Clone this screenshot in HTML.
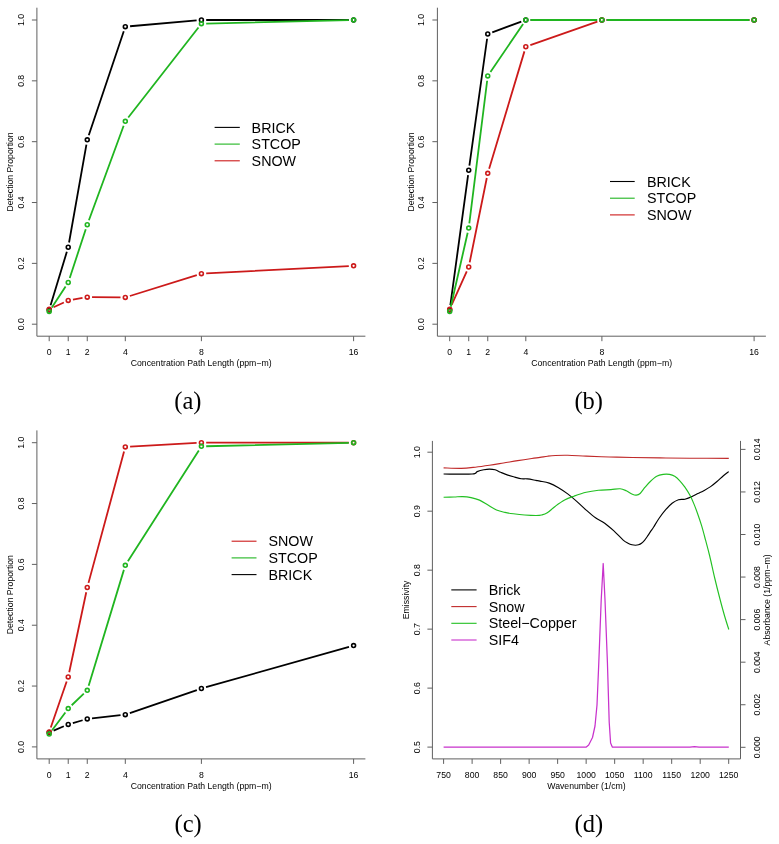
<!DOCTYPE html>
<html><head><meta charset="utf-8"><style>
html,body{margin:0;padding:0;background:#fff;}
svg{display:block;font-family:'Liberation Sans',sans-serif;will-change:transform;}
</style></head><body>
<svg width="779" height="844" viewBox="0 0 779 844" style="font-family:'Liberation Sans',sans-serif" fill="#000">
<rect width="779" height="844" fill="#fff"/>
<path d="M36.90 7.70V336.20H365.40" stroke="#606060" stroke-width="1.0" fill="none"/>
<path d="M31.90 324.20H36.90" stroke="#606060" stroke-width="1.0" fill="none"/>
<text transform="translate(20.80 324.20) rotate(-90)" y="3.1" text-anchor="middle" font-size="8.7">0.0</text>
<path d="M31.90 263.36H36.90" stroke="#606060" stroke-width="1.0" fill="none"/>
<text transform="translate(20.80 263.36) rotate(-90)" y="3.1" text-anchor="middle" font-size="8.7">0.2</text>
<path d="M31.90 202.52H36.90" stroke="#606060" stroke-width="1.0" fill="none"/>
<text transform="translate(20.80 202.52) rotate(-90)" y="3.1" text-anchor="middle" font-size="8.7">0.4</text>
<path d="M31.90 141.68H36.90" stroke="#606060" stroke-width="1.0" fill="none"/>
<text transform="translate(20.80 141.68) rotate(-90)" y="3.1" text-anchor="middle" font-size="8.7">0.6</text>
<path d="M31.90 80.84H36.90" stroke="#606060" stroke-width="1.0" fill="none"/>
<text transform="translate(20.80 80.84) rotate(-90)" y="3.1" text-anchor="middle" font-size="8.7">0.8</text>
<path d="M31.90 20.00H36.90" stroke="#606060" stroke-width="1.0" fill="none"/>
<text transform="translate(20.80 20.00) rotate(-90)" y="3.1" text-anchor="middle" font-size="8.7">1.0</text>
<path d="M49.20 336.20V341.20" stroke="#606060" stroke-width="1.0" fill="none"/>
<text x="49.20" y="355.10" text-anchor="middle" font-size="8.7">0</text>
<path d="M68.22 336.20V341.20" stroke="#606060" stroke-width="1.0" fill="none"/>
<text x="68.22" y="355.10" text-anchor="middle" font-size="8.7">1</text>
<path d="M87.25 336.20V341.20" stroke="#606060" stroke-width="1.0" fill="none"/>
<text x="87.25" y="355.10" text-anchor="middle" font-size="8.7">2</text>
<path d="M125.30 336.20V341.20" stroke="#606060" stroke-width="1.0" fill="none"/>
<text x="125.30" y="355.10" text-anchor="middle" font-size="8.7">4</text>
<path d="M201.40 336.20V341.20" stroke="#606060" stroke-width="1.0" fill="none"/>
<text x="201.40" y="355.10" text-anchor="middle" font-size="8.7">8</text>
<path d="M353.60 336.20V341.20" stroke="#606060" stroke-width="1.0" fill="none"/>
<text x="353.60" y="355.10" text-anchor="middle" font-size="8.7">16</text>
<text x="201.15" y="366.30" text-anchor="middle" font-size="8.7">Concentration Path Length (ppm−m)</text>
<text transform="translate(13.40 171.95) rotate(-90)" text-anchor="middle" font-size="8.7">Detection Proportion</text>
<path d="M50.59 305.31L66.83 251.83M69.06 242.51L86.41 144.58M88.78 135.31L123.77 31.24M130.08 26.27L196.62 20.42M206.20 20.00L348.80 20.00" stroke="#000000" stroke-width="1.8" fill="none"/>
<circle cx="49.20" cy="309.90" r="1.95" stroke="#000000" stroke-width="1.6" fill="none"/>
<circle cx="68.22" cy="247.24" r="1.95" stroke="#000000" stroke-width="1.6" fill="none"/>
<circle cx="87.25" cy="139.85" r="1.95" stroke="#000000" stroke-width="1.6" fill="none"/>
<circle cx="125.30" cy="26.69" r="1.95" stroke="#000000" stroke-width="1.6" fill="none"/>
<circle cx="201.40" cy="20.00" r="1.95" stroke="#000000" stroke-width="1.6" fill="none"/>
<circle cx="353.60" cy="20.00" r="1.95" stroke="#000000" stroke-width="1.6" fill="none"/>
<path d="M53.55 307.27L63.87 302.49M72.95 299.64L82.52 297.96M92.05 297.16L120.50 297.39M129.88 296.00L196.82 275.13M206.19 273.45L348.81 266.04" stroke="#cc1a1a" stroke-width="1.8" fill="none"/>
<circle cx="49.20" cy="309.29" r="1.95" stroke="#cc1a1a" stroke-width="1.6" fill="none"/>
<circle cx="68.22" cy="300.47" r="1.95" stroke="#cc1a1a" stroke-width="1.6" fill="none"/>
<circle cx="87.25" cy="297.13" r="1.95" stroke="#cc1a1a" stroke-width="1.6" fill="none"/>
<circle cx="125.30" cy="297.43" r="1.95" stroke="#cc1a1a" stroke-width="1.6" fill="none"/>
<circle cx="201.40" cy="273.70" r="1.95" stroke="#cc1a1a" stroke-width="1.6" fill="none"/>
<circle cx="353.60" cy="265.79" r="1.95" stroke="#cc1a1a" stroke-width="1.6" fill="none"/>
<path d="M51.84 307.41L65.59 286.53M69.73 277.97L85.75 229.29M88.91 220.22L123.64 125.80M128.25 117.51L198.45 27.44M206.20 23.54L348.80 20.12" stroke="#20b520" stroke-width="1.8" fill="none"/>
<circle cx="49.20" cy="311.42" r="1.95" stroke="#20b520" stroke-width="1.6" fill="none"/>
<circle cx="68.22" cy="282.52" r="1.95" stroke="#20b520" stroke-width="1.6" fill="none"/>
<circle cx="87.25" cy="224.73" r="1.95" stroke="#20b520" stroke-width="1.6" fill="none"/>
<circle cx="125.30" cy="121.30" r="1.95" stroke="#20b520" stroke-width="1.6" fill="none"/>
<circle cx="201.40" cy="23.65" r="1.95" stroke="#20b520" stroke-width="1.6" fill="none"/>
<circle cx="353.60" cy="20.00" r="1.95" stroke="#20b520" stroke-width="1.6" fill="none"/>
<path d="M214.60 127.40H239.80" stroke="#000000" stroke-width="1.1"/>
<text x="251.60" y="132.50" font-size="14.3">BRICK</text>
<path d="M214.60 144.10H239.80" stroke="#20b520" stroke-width="1.1"/>
<text x="251.60" y="149.20" font-size="14.3">STCOP</text>
<path d="M214.60 160.80H239.80" stroke="#cc1a1a" stroke-width="1.1"/>
<text x="251.60" y="165.90" font-size="14.3">SNOW</text>
<path d="M437.40 7.70V336.20H765.90" stroke="#606060" stroke-width="1.0" fill="none"/>
<path d="M432.40 324.20H437.40" stroke="#606060" stroke-width="1.0" fill="none"/>
<text transform="translate(421.30 324.20) rotate(-90)" y="3.1" text-anchor="middle" font-size="8.7">0.0</text>
<path d="M432.40 263.36H437.40" stroke="#606060" stroke-width="1.0" fill="none"/>
<text transform="translate(421.30 263.36) rotate(-90)" y="3.1" text-anchor="middle" font-size="8.7">0.2</text>
<path d="M432.40 202.52H437.40" stroke="#606060" stroke-width="1.0" fill="none"/>
<text transform="translate(421.30 202.52) rotate(-90)" y="3.1" text-anchor="middle" font-size="8.7">0.4</text>
<path d="M432.40 141.68H437.40" stroke="#606060" stroke-width="1.0" fill="none"/>
<text transform="translate(421.30 141.68) rotate(-90)" y="3.1" text-anchor="middle" font-size="8.7">0.6</text>
<path d="M432.40 80.84H437.40" stroke="#606060" stroke-width="1.0" fill="none"/>
<text transform="translate(421.30 80.84) rotate(-90)" y="3.1" text-anchor="middle" font-size="8.7">0.8</text>
<path d="M432.40 20.00H437.40" stroke="#606060" stroke-width="1.0" fill="none"/>
<text transform="translate(421.30 20.00) rotate(-90)" y="3.1" text-anchor="middle" font-size="8.7">1.0</text>
<path d="M449.70 336.20V341.20" stroke="#606060" stroke-width="1.0" fill="none"/>
<text x="449.70" y="355.10" text-anchor="middle" font-size="8.7">0</text>
<path d="M468.72 336.20V341.20" stroke="#606060" stroke-width="1.0" fill="none"/>
<text x="468.72" y="355.10" text-anchor="middle" font-size="8.7">1</text>
<path d="M487.75 336.20V341.20" stroke="#606060" stroke-width="1.0" fill="none"/>
<text x="487.75" y="355.10" text-anchor="middle" font-size="8.7">2</text>
<path d="M525.80 336.20V341.20" stroke="#606060" stroke-width="1.0" fill="none"/>
<text x="525.80" y="355.10" text-anchor="middle" font-size="8.7">4</text>
<path d="M601.90 336.20V341.20" stroke="#606060" stroke-width="1.0" fill="none"/>
<text x="601.90" y="355.10" text-anchor="middle" font-size="8.7">8</text>
<path d="M754.10 336.20V341.20" stroke="#606060" stroke-width="1.0" fill="none"/>
<text x="754.10" y="355.10" text-anchor="middle" font-size="8.7">16</text>
<text x="601.65" y="366.30" text-anchor="middle" font-size="8.7">Concentration Path Length (ppm−m)</text>
<text transform="translate(413.90 171.95) rotate(-90)" text-anchor="middle" font-size="8.7">Detection Proportion</text>
<path d="M450.35 305.15L468.08 175.03M469.39 165.52L487.09 38.75M492.26 32.34L521.29 21.66M530.60 20.00L597.10 20.00M606.70 20.00L749.30 20.00" stroke="#000000" stroke-width="1.8" fill="none"/>
<circle cx="449.70" cy="309.90" r="1.95" stroke="#000000" stroke-width="1.6" fill="none"/>
<circle cx="468.72" cy="170.27" r="1.95" stroke="#000000" stroke-width="1.6" fill="none"/>
<circle cx="487.75" cy="33.99" r="1.95" stroke="#000000" stroke-width="1.6" fill="none"/>
<circle cx="525.80" cy="20.00" r="1.95" stroke="#000000" stroke-width="1.6" fill="none"/>
<circle cx="601.90" cy="20.00" r="1.95" stroke="#000000" stroke-width="1.6" fill="none"/>
<circle cx="754.10" cy="20.00" r="1.95" stroke="#000000" stroke-width="1.6" fill="none"/>
<path d="M451.67 304.92L466.76 271.39M469.68 262.31L486.79 178.02M489.13 168.72L524.42 51.37M530.33 45.18L597.37 21.59M606.70 20.00L749.30 20.00" stroke="#cc1a1a" stroke-width="1.8" fill="none"/>
<circle cx="449.70" cy="309.29" r="1.95" stroke="#cc1a1a" stroke-width="1.6" fill="none"/>
<circle cx="468.72" cy="267.01" r="1.95" stroke="#cc1a1a" stroke-width="1.6" fill="none"/>
<circle cx="487.75" cy="173.32" r="1.95" stroke="#cc1a1a" stroke-width="1.6" fill="none"/>
<circle cx="525.80" cy="46.77" r="1.95" stroke="#cc1a1a" stroke-width="1.6" fill="none"/>
<circle cx="601.90" cy="20.00" r="1.95" stroke="#cc1a1a" stroke-width="1.6" fill="none"/>
<circle cx="754.10" cy="20.00" r="1.95" stroke="#cc1a1a" stroke-width="1.6" fill="none"/>
<path d="M450.77 306.74L467.66 232.75M469.32 223.31L487.15 80.74M490.45 72.00L523.10 23.97M530.60 20.00L597.10 20.00M606.70 20.00L749.30 20.00" stroke="#20b520" stroke-width="1.8" fill="none"/>
<circle cx="449.70" cy="311.42" r="1.95" stroke="#20b520" stroke-width="1.6" fill="none"/>
<circle cx="468.72" cy="228.07" r="1.95" stroke="#20b520" stroke-width="1.6" fill="none"/>
<circle cx="487.75" cy="75.97" r="1.95" stroke="#20b520" stroke-width="1.6" fill="none"/>
<circle cx="525.80" cy="20.00" r="1.95" stroke="#20b520" stroke-width="1.6" fill="none"/>
<circle cx="601.90" cy="20.00" r="1.95" stroke="#20b520" stroke-width="1.6" fill="none"/>
<circle cx="754.10" cy="20.00" r="1.95" stroke="#20b520" stroke-width="1.6" fill="none"/>
<path d="M610.00 181.50H634.70" stroke="#000000" stroke-width="1.1"/>
<text x="647.00" y="186.60" font-size="14.3">BRICK</text>
<path d="M610.00 198.20H634.70" stroke="#20b520" stroke-width="1.1"/>
<text x="647.00" y="203.30" font-size="14.3">STCOP</text>
<path d="M610.00 214.90H634.70" stroke="#cc1a1a" stroke-width="1.1"/>
<text x="647.00" y="220.00" font-size="14.3">SNOW</text>
<path d="M36.90 430.40V758.90H365.40" stroke="#606060" stroke-width="1.0" fill="none"/>
<path d="M31.90 746.90H36.90" stroke="#606060" stroke-width="1.0" fill="none"/>
<text transform="translate(20.80 746.90) rotate(-90)" y="3.1" text-anchor="middle" font-size="8.7">0.0</text>
<path d="M31.90 686.06H36.90" stroke="#606060" stroke-width="1.0" fill="none"/>
<text transform="translate(20.80 686.06) rotate(-90)" y="3.1" text-anchor="middle" font-size="8.7">0.2</text>
<path d="M31.90 625.22H36.90" stroke="#606060" stroke-width="1.0" fill="none"/>
<text transform="translate(20.80 625.22) rotate(-90)" y="3.1" text-anchor="middle" font-size="8.7">0.4</text>
<path d="M31.90 564.38H36.90" stroke="#606060" stroke-width="1.0" fill="none"/>
<text transform="translate(20.80 564.38) rotate(-90)" y="3.1" text-anchor="middle" font-size="8.7">0.6</text>
<path d="M31.90 503.54H36.90" stroke="#606060" stroke-width="1.0" fill="none"/>
<text transform="translate(20.80 503.54) rotate(-90)" y="3.1" text-anchor="middle" font-size="8.7">0.8</text>
<path d="M31.90 442.70H36.90" stroke="#606060" stroke-width="1.0" fill="none"/>
<text transform="translate(20.80 442.70) rotate(-90)" y="3.1" text-anchor="middle" font-size="8.7">1.0</text>
<path d="M49.20 758.90V763.90" stroke="#606060" stroke-width="1.0" fill="none"/>
<text x="49.20" y="777.80" text-anchor="middle" font-size="8.7">0</text>
<path d="M68.22 758.90V763.90" stroke="#606060" stroke-width="1.0" fill="none"/>
<text x="68.22" y="777.80" text-anchor="middle" font-size="8.7">1</text>
<path d="M87.25 758.90V763.90" stroke="#606060" stroke-width="1.0" fill="none"/>
<text x="87.25" y="777.80" text-anchor="middle" font-size="8.7">2</text>
<path d="M125.30 758.90V763.90" stroke="#606060" stroke-width="1.0" fill="none"/>
<text x="125.30" y="777.80" text-anchor="middle" font-size="8.7">4</text>
<path d="M201.40 758.90V763.90" stroke="#606060" stroke-width="1.0" fill="none"/>
<text x="201.40" y="777.80" text-anchor="middle" font-size="8.7">8</text>
<path d="M353.60 758.90V763.90" stroke="#606060" stroke-width="1.0" fill="none"/>
<text x="353.60" y="777.80" text-anchor="middle" font-size="8.7">16</text>
<text x="201.15" y="789.00" text-anchor="middle" font-size="8.7">Concentration Path Length (ppm−m)</text>
<text transform="translate(13.40 594.65) rotate(-90)" text-anchor="middle" font-size="8.7">Detection Proportion</text>
<path d="M53.61 730.70L63.82 726.29M72.84 723.06L82.64 720.24M92.02 718.38L120.53 715.19M129.84 713.09L196.86 690.05M206.02 687.19L348.98 646.90" stroke="#000000" stroke-width="1.8" fill="none"/>
<circle cx="49.20" cy="732.60" r="1.95" stroke="#000000" stroke-width="1.6" fill="none"/>
<circle cx="68.22" cy="724.39" r="1.95" stroke="#000000" stroke-width="1.6" fill="none"/>
<circle cx="87.25" cy="718.91" r="1.95" stroke="#000000" stroke-width="1.6" fill="none"/>
<circle cx="125.30" cy="714.65" r="1.95" stroke="#000000" stroke-width="1.6" fill="none"/>
<circle cx="201.40" cy="688.49" r="1.95" stroke="#000000" stroke-width="1.6" fill="none"/>
<circle cx="353.60" cy="645.60" r="1.95" stroke="#000000" stroke-width="1.6" fill="none"/>
<path d="M50.77 727.46L66.66 681.47M69.22 672.24L86.25 592.19M88.50 582.87L124.05 451.59M130.09 446.69L196.61 442.97M206.20 442.70L348.80 442.70" stroke="#cc1a1a" stroke-width="1.8" fill="none"/>
<circle cx="49.20" cy="731.99" r="1.95" stroke="#cc1a1a" stroke-width="1.6" fill="none"/>
<circle cx="68.22" cy="676.93" r="1.95" stroke="#cc1a1a" stroke-width="1.6" fill="none"/>
<circle cx="87.25" cy="587.50" r="1.95" stroke="#cc1a1a" stroke-width="1.6" fill="none"/>
<circle cx="125.30" cy="446.96" r="1.95" stroke="#cc1a1a" stroke-width="1.6" fill="none"/>
<circle cx="201.40" cy="442.70" r="1.95" stroke="#cc1a1a" stroke-width="1.6" fill="none"/>
<circle cx="353.60" cy="442.70" r="1.95" stroke="#cc1a1a" stroke-width="1.6" fill="none"/>
<path d="M52.07 730.27L65.36 712.42M71.69 705.25L83.79 693.64M88.65 685.73L123.90 569.88M127.89 561.25L198.81 450.39M206.20 446.24L348.80 442.82" stroke="#20b520" stroke-width="1.8" fill="none"/>
<circle cx="49.20" cy="734.12" r="1.95" stroke="#20b520" stroke-width="1.6" fill="none"/>
<circle cx="68.22" cy="708.57" r="1.95" stroke="#20b520" stroke-width="1.6" fill="none"/>
<circle cx="87.25" cy="690.32" r="1.95" stroke="#20b520" stroke-width="1.6" fill="none"/>
<circle cx="125.30" cy="565.29" r="1.95" stroke="#20b520" stroke-width="1.6" fill="none"/>
<circle cx="201.40" cy="446.35" r="1.95" stroke="#20b520" stroke-width="1.6" fill="none"/>
<circle cx="353.60" cy="442.70" r="1.95" stroke="#20b520" stroke-width="1.6" fill="none"/>
<path d="M231.60 541.20H256.50" stroke="#cc1a1a" stroke-width="1.1"/>
<text x="268.50" y="546.30" font-size="14.3">SNOW</text>
<path d="M231.60 557.90H256.50" stroke="#20b520" stroke-width="1.1"/>
<text x="268.50" y="563.00" font-size="14.3">STCOP</text>
<path d="M231.60 574.60H256.50" stroke="#000000" stroke-width="1.1"/>
<text x="268.50" y="579.70" font-size="14.3">BRICK</text>
<path d="M432.40 440.90V758.90H740.50V440.90" stroke="#606060" stroke-width="1.0" fill="none"/>
<path d="M427.40 747.10H432.40" stroke="#606060" stroke-width="1.0" fill="none"/>
<text transform="translate(417.10 747.10) rotate(-90)" y="3.1" text-anchor="middle" font-size="8.7">0.5</text>
<path d="M427.40 688.12H432.40" stroke="#606060" stroke-width="1.0" fill="none"/>
<text transform="translate(417.10 688.12) rotate(-90)" y="3.1" text-anchor="middle" font-size="8.7">0.6</text>
<path d="M427.40 629.14H432.40" stroke="#606060" stroke-width="1.0" fill="none"/>
<text transform="translate(417.10 629.14) rotate(-90)" y="3.1" text-anchor="middle" font-size="8.7">0.7</text>
<path d="M427.40 570.16H432.40" stroke="#606060" stroke-width="1.0" fill="none"/>
<text transform="translate(417.10 570.16) rotate(-90)" y="3.1" text-anchor="middle" font-size="8.7">0.8</text>
<path d="M427.40 511.18H432.40" stroke="#606060" stroke-width="1.0" fill="none"/>
<text transform="translate(417.10 511.18) rotate(-90)" y="3.1" text-anchor="middle" font-size="8.7">0.9</text>
<path d="M427.40 452.20H432.40" stroke="#606060" stroke-width="1.0" fill="none"/>
<text transform="translate(417.10 452.20) rotate(-90)" y="3.1" text-anchor="middle" font-size="8.7">1.0</text>
<path d="M740.50 747.30H745.50" stroke="#606060" stroke-width="1.0" fill="none"/>
<text transform="translate(756.50 747.30) rotate(-90)" y="3.1" text-anchor="middle" font-size="8.7">0.000</text>
<path d="M740.50 704.74H745.50" stroke="#606060" stroke-width="1.0" fill="none"/>
<text transform="translate(756.50 704.74) rotate(-90)" y="3.1" text-anchor="middle" font-size="8.7">0.002</text>
<path d="M740.50 662.18H745.50" stroke="#606060" stroke-width="1.0" fill="none"/>
<text transform="translate(756.50 662.18) rotate(-90)" y="3.1" text-anchor="middle" font-size="8.7">0.004</text>
<path d="M740.50 619.62H745.50" stroke="#606060" stroke-width="1.0" fill="none"/>
<text transform="translate(756.50 619.62) rotate(-90)" y="3.1" text-anchor="middle" font-size="8.7">0.006</text>
<path d="M740.50 577.06H745.50" stroke="#606060" stroke-width="1.0" fill="none"/>
<text transform="translate(756.50 577.06) rotate(-90)" y="3.1" text-anchor="middle" font-size="8.7">0.008</text>
<path d="M740.50 534.50H745.50" stroke="#606060" stroke-width="1.0" fill="none"/>
<text transform="translate(756.50 534.50) rotate(-90)" y="3.1" text-anchor="middle" font-size="8.7">0.010</text>
<path d="M740.50 491.94H745.50" stroke="#606060" stroke-width="1.0" fill="none"/>
<text transform="translate(756.50 491.94) rotate(-90)" y="3.1" text-anchor="middle" font-size="8.7">0.012</text>
<path d="M740.50 449.38H745.50" stroke="#606060" stroke-width="1.0" fill="none"/>
<text transform="translate(756.50 449.38) rotate(-90)" y="3.1" text-anchor="middle" font-size="8.7">0.014</text>
<path d="M443.60 758.90V763.90" stroke="#606060" stroke-width="1.0" fill="none"/>
<text x="443.60" y="778.40" text-anchor="middle" font-size="8.7">750</text>
<path d="M472.11 758.90V763.90" stroke="#606060" stroke-width="1.0" fill="none"/>
<text x="472.11" y="778.40" text-anchor="middle" font-size="8.7">800</text>
<path d="M500.62 758.90V763.90" stroke="#606060" stroke-width="1.0" fill="none"/>
<text x="500.62" y="778.40" text-anchor="middle" font-size="8.7">850</text>
<path d="M529.13 758.90V763.90" stroke="#606060" stroke-width="1.0" fill="none"/>
<text x="529.13" y="778.40" text-anchor="middle" font-size="8.7">900</text>
<path d="M557.64 758.90V763.90" stroke="#606060" stroke-width="1.0" fill="none"/>
<text x="557.64" y="778.40" text-anchor="middle" font-size="8.7">950</text>
<path d="M586.15 758.90V763.90" stroke="#606060" stroke-width="1.0" fill="none"/>
<text x="586.15" y="778.40" text-anchor="middle" font-size="8.7">1000</text>
<path d="M614.66 758.90V763.90" stroke="#606060" stroke-width="1.0" fill="none"/>
<text x="614.66" y="778.40" text-anchor="middle" font-size="8.7">1050</text>
<path d="M643.17 758.90V763.90" stroke="#606060" stroke-width="1.0" fill="none"/>
<text x="643.17" y="778.40" text-anchor="middle" font-size="8.7">1100</text>
<path d="M671.68 758.90V763.90" stroke="#606060" stroke-width="1.0" fill="none"/>
<text x="671.68" y="778.40" text-anchor="middle" font-size="8.7">1150</text>
<path d="M700.19 758.90V763.90" stroke="#606060" stroke-width="1.0" fill="none"/>
<text x="700.19" y="778.40" text-anchor="middle" font-size="8.7">1200</text>
<path d="M728.70 758.90V763.90" stroke="#606060" stroke-width="1.0" fill="none"/>
<text x="728.70" y="778.40" text-anchor="middle" font-size="8.7">1250</text>
<text x="586.45" y="788.50" text-anchor="middle" font-size="8.7">Wavenumber (1/cm)</text>
<text transform="translate(409.20 599.90) rotate(-90)" text-anchor="middle" font-size="8.7">Emissivity</text>
<text transform="translate(770.00 599.90) rotate(-90)" text-anchor="middle" font-size="8.7">Absorbance (1/ppm−m)</text>
<path d="M443.60 467.90C446.53 467.98 455.92 468.52 461.20 468.40C466.48 468.28 470.60 467.72 475.30 467.20C480.00 466.68 484.70 466.00 489.40 465.30C494.10 464.60 498.78 463.78 503.50 463.00C508.22 462.22 512.98 461.35 517.70 460.60C522.42 459.85 528.08 459.03 531.80 458.50C535.52 457.97 537.35 457.78 540.00 457.40C542.65 457.02 545.13 456.52 547.70 456.20C550.27 455.88 552.07 455.65 555.40 455.50C558.73 455.35 562.57 455.20 567.70 455.30C572.83 455.40 579.27 455.82 586.20 456.10C593.13 456.38 601.60 456.77 609.30 457.00C617.00 457.23 623.95 457.35 632.40 457.50C640.85 457.65 650.40 457.78 660.00 457.90C669.60 458.02 678.53 458.13 690.00 458.20C701.47 458.27 722.33 458.28 728.80 458.30" stroke="#c02a2a" stroke-width="1.15" fill="none"/>
<path d="M443.60 474.00C448.37 474.00 466.60 474.40 472.20 474.00C477.80 473.60 475.27 472.30 477.20 471.60C479.13 470.90 481.77 470.22 483.80 469.80C485.83 469.38 487.52 469.10 489.40 469.10C491.28 469.10 493.22 469.27 495.10 469.80C496.98 470.33 498.58 471.42 500.70 472.30C502.82 473.18 505.45 474.30 507.80 475.10C510.15 475.90 512.57 476.50 514.80 477.10C517.03 477.70 519.08 478.40 521.20 478.70C523.32 479.00 525.03 478.62 527.50 478.90C529.97 479.18 533.92 480.03 536.00 480.40C538.08 480.77 537.80 480.65 540.00 481.10C542.20 481.55 546.12 482.00 549.20 483.10C552.28 484.20 555.42 485.90 558.50 487.70C561.58 489.50 564.62 491.58 567.70 493.90C570.78 496.22 573.92 498.90 577.00 501.60C580.08 504.30 583.12 507.40 586.20 510.10C589.28 512.80 592.42 515.62 595.50 517.80C598.58 519.98 601.63 521.02 604.70 523.20C607.77 525.38 610.82 528.08 613.90 530.90C616.98 533.72 620.85 538.05 623.20 540.10C625.55 542.15 626.53 542.42 628.00 543.20C629.47 543.98 630.75 544.47 632.00 544.80C633.25 545.13 634.42 545.20 635.50 545.20C636.58 545.20 637.50 545.12 638.50 544.80C639.50 544.48 640.50 544.05 641.50 543.30C642.50 542.55 643.50 541.48 644.50 540.30C645.50 539.12 646.50 537.65 647.50 536.20C648.50 534.75 649.50 533.10 650.50 531.60C651.50 530.10 652.03 529.47 653.50 527.20C654.97 524.93 657.27 520.92 659.30 518.00C661.33 515.08 663.57 512.15 665.70 509.70C667.83 507.25 669.97 504.97 672.10 503.30C674.23 501.63 676.37 500.38 678.50 499.70C680.63 499.02 682.77 499.67 684.90 499.20C687.03 498.73 689.15 497.83 691.30 496.90C693.45 495.97 695.65 494.68 697.80 493.60C699.95 492.52 702.07 491.57 704.20 490.40C706.33 489.23 708.47 488.08 710.60 486.60C712.73 485.12 714.87 483.32 717.00 481.50C719.13 479.68 721.43 477.35 723.40 475.70C725.37 474.05 727.90 472.28 728.80 471.60" stroke="#000" stroke-width="1.15" fill="none"/>
<path d="M443.60 497.30C445.35 497.25 450.93 497.12 454.10 497.00C457.27 496.88 459.77 496.50 462.60 496.60C465.43 496.70 468.28 497.02 471.10 497.60C473.92 498.18 476.68 498.85 479.50 500.10C482.32 501.35 485.17 503.45 488.00 505.10C490.83 506.75 493.67 508.78 496.50 510.00C499.33 511.22 502.18 511.77 505.00 512.40C507.82 513.03 510.12 513.37 513.40 513.80C516.68 514.23 520.93 514.72 524.70 515.00C528.47 515.28 533.17 515.50 536.00 515.50C538.83 515.50 539.82 515.45 541.70 515.00C543.58 514.55 545.02 514.27 547.30 512.80C549.58 511.33 552.52 508.33 555.40 506.20C558.28 504.07 561.52 501.67 564.60 500.00C567.68 498.33 570.30 497.48 573.90 496.20C577.50 494.92 582.10 493.28 586.20 492.30C590.30 491.32 594.38 490.75 598.50 490.30C602.62 489.85 607.30 489.85 610.90 489.60C614.50 489.35 617.53 488.60 620.10 488.80C622.67 489.00 624.25 489.90 626.30 490.80C628.35 491.70 630.73 493.48 632.40 494.20C634.07 494.92 635.02 495.22 636.30 495.10C637.58 494.98 638.63 494.82 640.10 493.50C641.57 492.18 643.40 489.20 645.10 487.20C646.80 485.20 648.37 483.32 650.30 481.50C652.23 479.68 654.57 477.48 656.70 476.30C658.83 475.12 660.97 474.72 663.10 474.40C665.23 474.08 667.57 474.08 669.50 474.40C671.43 474.72 672.98 475.23 674.70 476.30C676.42 477.37 678.10 478.98 679.80 480.80C681.50 482.62 683.18 484.73 684.90 487.20C686.62 489.67 688.60 492.82 690.10 495.60C691.60 498.38 692.62 500.80 693.90 503.90C695.18 507.00 696.52 510.57 697.80 514.20C699.08 517.83 700.32 521.42 701.60 525.70C702.88 529.98 704.15 534.85 705.50 539.90C706.85 544.95 708.17 549.65 709.70 556.00C711.23 562.35 713.03 571.00 714.70 578.00C716.37 585.00 718.05 591.67 719.70 598.00C721.35 604.33 723.08 610.75 724.60 616.00C726.12 621.25 728.10 627.25 728.80 629.50" stroke="#22c022" stroke-width="1.15" fill="none"/>
<path d="M443.60 747.20L586.00 747.20L588.70 745.00L592.50 737.50L595.00 726.00L597.00 705.00L598.70 665.00L601.20 600.00L603.20 563.50L605.00 600.00L607.40 662.00L609.20 722.00L610.60 743.00L612.40 747.20L690.00 747.20L694.50 746.60L699.00 747.20L728.80 747.20" stroke="#c832cc" stroke-width="1.25" fill="none" stroke-linejoin="round"/>
<path d="M451.3 589.90H476.6" stroke="#000" stroke-width="1.1"/>
<text x="488.7" y="595.00" font-size="14.3">Brick</text>
<path d="M451.3 606.60H476.6" stroke="#c02a2a" stroke-width="1.1"/>
<text x="488.7" y="611.70" font-size="14.3">Snow</text>
<path d="M451.3 623.30H476.6" stroke="#22c022" stroke-width="1.1"/>
<text x="488.7" y="628.40" font-size="14.3">Steel−Copper</text>
<path d="M451.3 640.00H476.6" stroke="#c832cc" stroke-width="1.1"/>
<text x="488.7" y="645.10" font-size="14.3">SIF4</text>
<text x="187.9" y="409.0" text-anchor="middle" font-size="24.5" style="font-family:'Liberation Serif',serif">(a)</text>
<text x="588.7" y="409.0" text-anchor="middle" font-size="24.5" style="font-family:'Liberation Serif',serif">(b)</text>
<text x="188.1" y="832.2" text-anchor="middle" font-size="24.5" style="font-family:'Liberation Serif',serif">(c)</text>
<text x="588.9" y="832.2" text-anchor="middle" font-size="24.5" style="font-family:'Liberation Serif',serif">(d)</text>
</svg>
</body></html>
